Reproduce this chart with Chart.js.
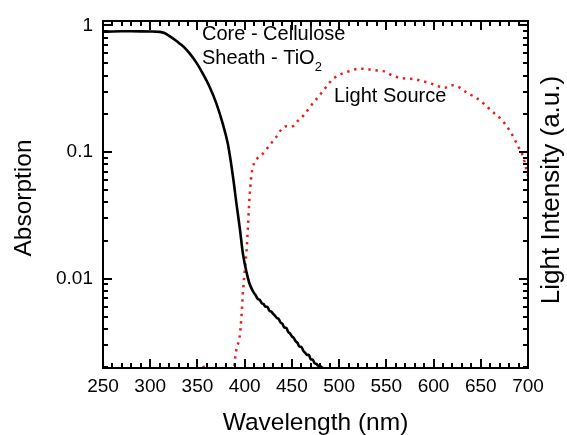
<!DOCTYPE html>
<html>
<head>
<meta charset="utf-8">
<script src="https://cdn.jsdelivr.net/npm/chart.js@4.4.1/dist/chart.umd.min.js"></script>
<style>
  html, body { margin: 0; padding: 0; background: #ffffff; }
  #wrap { width: 567px; height: 435px; }
</style>
</head>
<body>
<div id="wrap"><canvas id="c" width="567" height="435"></canvas></div>
<script>
// ---- Data ----
const xTickLabels = [250, 300, 350, 400, 450, 500, 550, 600, 650, 700];
const yTickLabels = [1, 0.1, 0.01];

// Core - Cellulose / Sheath - TiO2 absorption (black line)
const absWavelength = [
  251, 260, 270, 280, 290, 300, 310, 315, 320.5, 326, 331, 336, 341.7, 348.7, 355.7, 362.8,
  369.9, 377, 382.3, 387.6, 391.2, 395, 398, 402, 405, 409, 412, 414, 416, 418, 420, 422,
  424, 426, 428, 430, 432, 434, 436, 438, 440, 442, 444, 446, 448, 450, 452, 454,
  456, 458, 460, 462, 464, 466, 468, 470, 472, 474, 476, 478, 480, 482, 484, 487
];
const absValue = [
  0.89, 0.895, 0.897, 0.897, 0.896, 0.894, 0.888, 0.87, 0.822, 0.77, 0.72, 0.67, 0.60, 0.51, 0.415, 0.327,
  0.243, 0.165, 0.115, 0.064, 0.0397, 0.0245, 0.016, 0.0112, 0.0092, 0.0079, 0.0073, 0.0069, 0.0068, 0.0064, 0.0063, 0.0060,
  0.0060, 0.0056, 0.0055, 0.0053, 0.0051, 0.0049, 0.0048, 0.0045, 0.0044, 0.0041, 0.0041, 0.0038, 0.0037, 0.0035, 0.0034, 0.0032,
  0.0031, 0.0029, 0.0029, 0.0027, 0.0026, 0.0025, 0.0025, 0.0023, 0.0023, 0.00215, 0.00212, 0.00205, 0.00204, 0.00198, 0.00196, 0.0019
];

// Light source spectrum (red dotted line), right axis (a.u.)
const lightWavelength = [
  352, 355, 358, 370,
  388, 391, 394.7, 396.5, 398, 400, 402, 403.5, 405, 407, 409, 411, 414, 419, 426, 433,
  439, 444, 451, 456, 463, 471, 478, 485, 492, 499, 508, 515, 522, 530, 540, 547,
  556, 565, 572, 580, 588, 597, 604, 612, 619, 626, 635, 646, 654, 662, 672, 676,
  682, 690, 695, 698, 700
];
const lightValue = [
  0.0019, 0.00208, 0.0019, null,
  0.0018, 0.0027, 0.0035, 0.0049, 0.0075, 0.0113, 0.0165, 0.026, 0.042, 0.064, 0.077, 0.085, 0.09, 0.0965, 0.112, 0.13,
  0.151, 0.16, 0.16, 0.175, 0.197, 0.236, 0.273, 0.317, 0.368, 0.403, 0.427, 0.445, 0.455, 0.45, 0.44, 0.435,
  0.403, 0.384, 0.38, 0.375, 0.363, 0.347, 0.332, 0.321, 0.337, 0.327, 0.295, 0.265, 0.238, 0.209, 0.18, 0.165,
  0.142, 0.109, 0.091, 0.074, 0.065
];

const xMin = 250, xMax = 700;
const yMin = 0.00197, yMax = 1.074;

// ---- Build chart ----
const FONT = '"Liberation Sans", Arial, Helvetica, sans-serif';
const absPoints = absWavelength.map((w, i) => ({ x: w, y: absValue[i] }));
const lightPoints = lightWavelength.map((w, i) => ({ x: w, y: lightValue[i] }));

const framePlugin = {
  id: 'frameTicks',
  afterDraw(chart) {
    const ctx = chart.ctx;
    const a = chart.chartArea;
    const xs = chart.scales.x, ys = chart.scales.y;
    const L = Math.round(a.left), R = Math.round(a.right), T = Math.round(a.top), B = Math.round(a.bottom);
    ctx.save();
    ctx.setLineDash([]);
    ctx.globalAlpha = 1;
    ctx.globalCompositeOperation = 'source-over';
    ctx.fillStyle = '#000000';

    // text
    ctx.textBaseline = 'middle';
    ctx.textAlign = 'left';
    ctx.font = '20px ' + FONT;
    ctx.fillText('Core - Cellulose', 202, 34);
    const s = 'Sheath - TiO';
    ctx.fillText(s, 202, 58);
    const w = ctx.measureText(s).width;
    ctx.font = '13px ' + FONT;
    ctx.fillText('2', 202 + w, 67);
    ctx.font = '20px ' + FONT;
    ctx.fillText('Light Source', 334, 96);

    // axis titles (vertical)
    ctx.textAlign = 'center';
    ctx.font = '24.5px ' + FONT;
    ctx.save();
    ctx.translate(24, 198);
    ctx.rotate(-Math.PI / 2);
    ctx.fillText('Absorption', 0, 0);
    ctx.restore();
    ctx.font = '26px ' + FONT;
    ctx.save();
    ctx.translate(552, 190);
    ctx.rotate(-Math.PI / 2);
    ctx.fillText('Light Intensity (a.u.)', 0, 0);
    ctx.restore();

    // frame (2px)
    ctx.fillStyle = '#000000';
    ctx.fillRect(L - 1, T - 1, R - L + 2, 2);
    ctx.fillRect(L - 1, B - 1, R - L + 2, 2);
    ctx.fillRect(L - 1, T - 1, 2, B - T + 2);
    ctx.fillRect(R - 1, T - 1, 2, B - T + 2);

    // ticks (inward), drawn last
    for (let v = xMin; v <= xMax; v += 10) {
      const px = Math.round(xs.getPixelForValue(v));
      const len = (v % 50 === 0) ? 9 : 5;
      ctx.fillRect(px - 1, B - len, 2, len);
      ctx.fillRect(px - 1, T, 2, len);
    }
    for (let e = -3; e <= 0; e++) {
      for (let k = 1; k <= 9; k++) {
        const v = k * Math.pow(10, e);
        if (v < yMin || v > yMax) continue;
        const py = Math.round(ys.getPixelForValue(v));
        const len = (k === 1) ? 9 : 5;
        ctx.fillRect(L, py - 1, len, 2);
        ctx.fillRect(R - len, py - 1, len, 2);
      }
    }
    ctx.restore();
  }
};

const findLabel = v => yTickLabels.find(t => Math.abs(t - v) / t < 1e-6);

new Chart(document.getElementById('c'), {
  type: 'line',
  data: {
    datasets: [
      {
        label: 'Absorption',
        data: absPoints,
        borderColor: '#000000',
        borderWidth: 2.6,
        pointRadius: 0,
        cubicInterpolationMode: 'monotone',
        yAxisID: 'y'
      },
      {
        label: 'Light Source',
        data: lightPoints,
        borderColor: '#e5201f',
        borderWidth: 2.5,
        borderDash: [2.4, 4.8],
        borderCapStyle: 'butt',
        pointRadius: 0,
        cubicInterpolationMode: 'monotone',
        spanGaps: false,
        yAxisID: 'y2'
      }
    ]
  },
  options: {
    responsive: false,
    animation: false,
    devicePixelRatio: 1,
    layout: { padding: { top: 15, left: 0, right: 0, bottom: 0 } },
    plugins: { legend: { display: false }, tooltip: { enabled: false }, title: { display: false } },
    scales: {
      x: {
        type: 'linear',
        min: xMin, max: xMax,
        grid: { display: false, drawTicks: false },
        border: { display: false },
        ticks: {
          stepSize: 50,
          autoSkip: false,
          maxRotation: 0,
          padding: 7,
          color: '#000',
          font: { size: 19, family: FONT },
          callback: v => xTickLabels.includes(v) ? String(v) : ''
        },
        title: {
          display: true,
          text: 'Wavelength (nm)',
          color: '#000',
          font: { size: 24.5, family: FONT, lineHeight: 1 },
          padding: { top: 0, bottom: 0 }
        },
        afterFit: s => { s.height = 67; }
      },
      y: {
        type: 'logarithmic',
        position: 'left',
        min: yMin, max: yMax,
        grid: { display: false, drawTicks: false },
        border: { display: false },
        ticks: {
          autoSkip: false,
          padding: 10,
          color: '#000',
          font: { size: 19, family: FONT },
          callback: v => { const t = findLabel(v); return t !== undefined ? String(t) : ''; }
        },
        afterFit: s => { s.width = 103; }
      },
      y2: {
        type: 'logarithmic',
        position: 'right',
        min: yMin, max: yMax,
        grid: { display: false, drawTicks: false },
        border: { display: false },
        ticks: { display: false },
        afterFit: s => { s.width = 39; }
      }
    }
  },
  plugins: [framePlugin]
});
</script>
</body>
</html>
